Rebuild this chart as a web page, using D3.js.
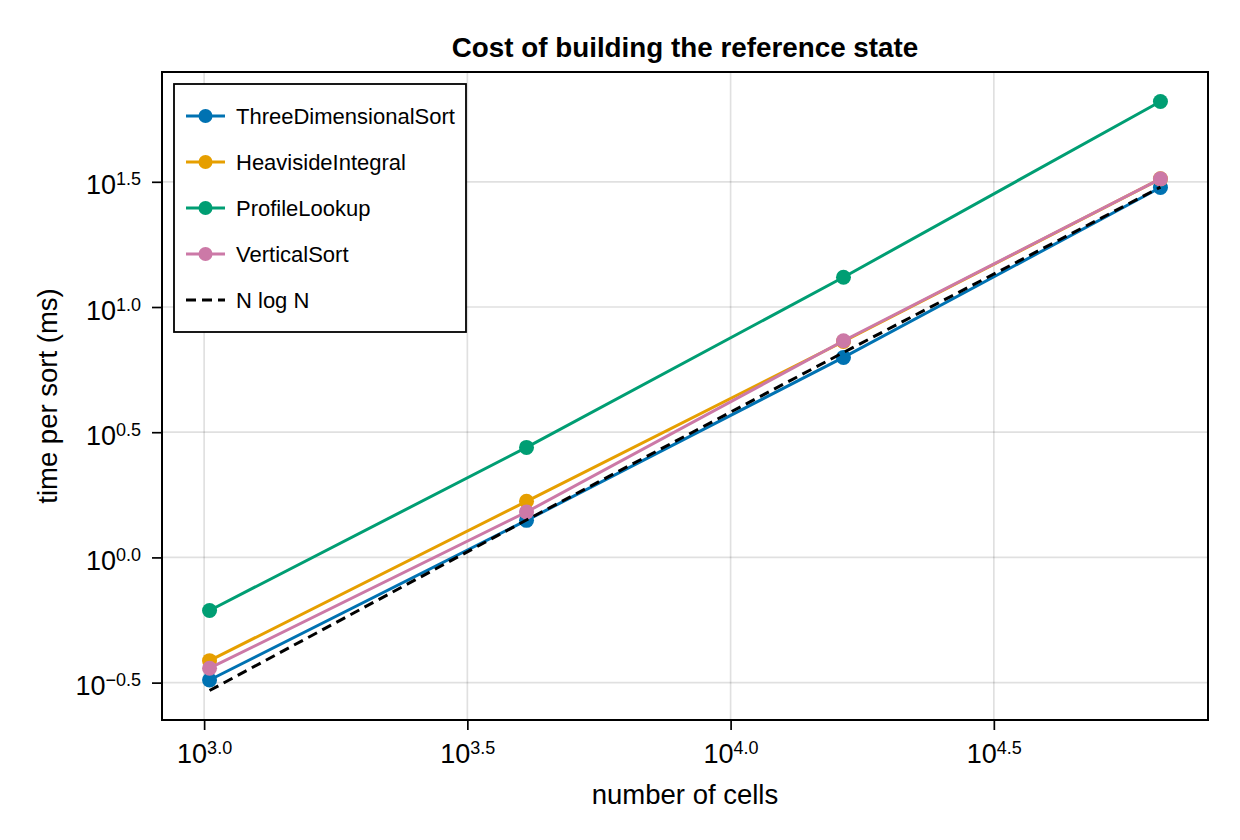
<!DOCTYPE html>
<html>
<head>
<meta charset="utf-8">
<script src="https://cdn.jsdelivr.net/npm/d3@7"></script>
<style>
body { margin: 0; background: #fff; }
text { font-family: "Liberation Sans", Arial, sans-serif; fill: #000; }
</style>
</head>
<body>
<script>
// data (ms per sort)
var cells = [1024, 4096, 16384, 65536];
var threeDimensionalSort = [0.324, 1.406, 6.29, 30.0];
var heavisideIntegral = [0.387, 1.675, 7.28, 32.5];
var profileLookup = [0.614, 2.75, 13.15, 66.2];
var verticalSort = [0.361, 1.518, 7.33, 32.5];
var nLogN = [0.294, 1.411, 6.585, 30.1];

var seriesNames = ["ThreeDimensionalSort", "HeavisideIntegral", "ProfileLookup", "VerticalSort"];
var seriesValues = [threeDimensionalSort, heavisideIntegral, profileLookup, verticalSort];
var seriesColors = ["#0072B2", "#E69F00", "#009E73", "#CC79A7"];
var refName = "N log N";

var xTickExps = ["3.0", "3.5", "4.0", "4.5"];
var yTickExps = ["−0.5", "0.0", "0.5", "1.0", "1.5"];

var width = 1240, height = 840;
var plotL = 162, plotR = 1208, plotT = 72, plotB = 720;

var svg = d3.select("body").append("svg")
    .attr("width", width)
    .attr("height", height);

function expVal(s) { return Math.pow(10, +s.replace("−", "-")); }

// log domains padded 5% each side like the original
function padded(vals) {
    var lo = Math.log10(d3.min(vals)), hi = Math.log10(d3.max(vals)), p = (hi - lo) * 0.05;
    return [Math.pow(10, lo - p), Math.pow(10, hi + p)];
}
var allY = [].concat(threeDimensionalSort, heavisideIntegral, profileLookup, verticalSort, nLogN);

var x = d3.scaleLog().domain(padded(cells)).range([plotL, plotR]);
var y = d3.scaleLog().domain(padded(allY)).range([plotB, plotT]);

var xTicks = xTickExps.map(expVal);
var yTicks = yTickExps.map(expVal);

// grid
svg.append("g").selectAll("line").data(xTicks).enter().append("line")
    .attr("x1", function(d){ return x(d); }).attr("x2", function(d){ return x(d); })
    .attr("y1", plotT).attr("y2", plotB)
    .attr("stroke", "#000").attr("stroke-opacity", 0.12).attr("stroke-width", 1.7);
svg.append("g").selectAll("line").data(yTicks).enter().append("line")
    .attr("y1", function(d){ return y(d); }).attr("y2", function(d){ return y(d); })
    .attr("x1", plotL).attr("x2", plotR)
    .attr("stroke", "#000").attr("stroke-opacity", 0.12).attr("stroke-width", 1.7);

var line = d3.line()
    .x(function(d, i){ return x(cells[i]); })
    .y(function(d){ return y(d); });

// series: line then markers
seriesValues.forEach(function(vals, k){
    svg.append("path")
        .datum(vals)
        .attr("d", line)
        .attr("fill", "none")
        .attr("stroke", seriesColors[k])
        .attr("stroke-width", 3);
    svg.append("g").selectAll("circle").data(vals).enter().append("circle")
        .attr("cx", function(d, i){ return x(cells[i]); })
        .attr("cy", function(d){ return y(d); })
        .attr("r", 7.5)
        .attr("fill", seriesColors[k]);
});

// reference N log N
svg.append("path")
    .datum(nLogN)
    .attr("d", line)
    .attr("fill", "none")
    .attr("stroke", "#000")
    .attr("stroke-width", 3)
    .attr("stroke-dasharray", "10,6");

// frame
svg.append("rect")
    .attr("x", plotL).attr("y", plotT)
    .attr("width", plotR - plotL).attr("height", plotB - plotT)
    .attr("fill", "none").attr("stroke", "#000").attr("stroke-width", 2);

// axes with ticks, labels drawn as 10^exp
var xAxis = svg.append("g")
    .attr("transform", "translate(0," + plotB + ")")
    .call(d3.axisBottom(x).tickValues(xTicks).tickSize(10).tickFormat(""));
var yAxis = svg.append("g")
    .attr("transform", "translate(" + plotL + ",0)")
    .call(d3.axisLeft(y).tickValues(yTicks).tickSize(10).tickFormat(""));
[xAxis, yAxis].forEach(function(a){
    a.attr("font-size", null).attr("font-family", null);
    a.select(".domain").remove();
    a.selectAll(".tick line").attr("stroke-width", 1.7);
});

function powLabel(sel, exps) {
    sel.each(function(d, i){
        var t = d3.select(this).select("text");
        t.text(null).style("font-size", "27px").attr("fill", "#000");
        t.append("tspan").text("10");
        t.append("tspan").style("font-size", "18px").attr("dy", -9).text(exps[i]);
    });
}
powLabel(xAxis.selectAll(".tick"), xTickExps);
xAxis.selectAll(".tick text").attr("y", 43).attr("dy", null).attr("text-anchor", "middle");
powLabel(yAxis.selectAll(".tick"), yTickExps);
yAxis.selectAll(".tick text").attr("x", -21).attr("y", 12).attr("dy", null).attr("text-anchor", "end");

// titles
svg.append("text")
    .attr("x", (plotL + plotR) / 2).attr("y", 57)
    .attr("text-anchor", "middle")
    .attr("font-size", 27.8).attr("font-weight", "bold")
    .text("Cost of building the reference state");
svg.append("text")
    .attr("x", (plotL + plotR) / 2).attr("y", 804)
    .attr("text-anchor", "middle")
    .attr("font-size", 27.5)
    .text("number of cells");
svg.append("text")
    .attr("transform", "translate(57," + ((plotT + plotB) / 2) + ") rotate(-90)")
    .attr("text-anchor", "middle")
    .attr("font-size", 27.5)
    .text("time per sort (ms)");

// legend
var legend = svg.append("g");
legend.append("rect")
    .attr("x", 174).attr("y", 84).attr("width", 292).attr("height", 248)
    .attr("fill", "#fff").attr("stroke", "#000").attr("stroke-width", 1.8);

var legendItems = seriesNames.concat([refName]);
var rowY = d3.scalePoint().domain(legendItems).range([116, 300]);
legendItems.forEach(function(name, k){
    var ly = rowY(name);
    var c = k < seriesColors.length ? seriesColors[k] : "#000";
    var l = legend.append("line")
        .attr("x1", 186).attr("x2", 225).attr("y1", ly).attr("y2", ly)
        .attr("stroke", c).attr("stroke-width", 3);
    if (k < seriesColors.length) {
        legend.append("circle").attr("cx", 205.5).attr("cy", ly).attr("r", 7).attr("fill", c);
    } else {
        l.attr("stroke-dasharray", "10,6");
    }
    legend.append("text")
        .attr("x", 236).attr("y", ly + 8)
        .attr("font-size", 22)
        .text(name);
});
</script>
</body>
</html>
